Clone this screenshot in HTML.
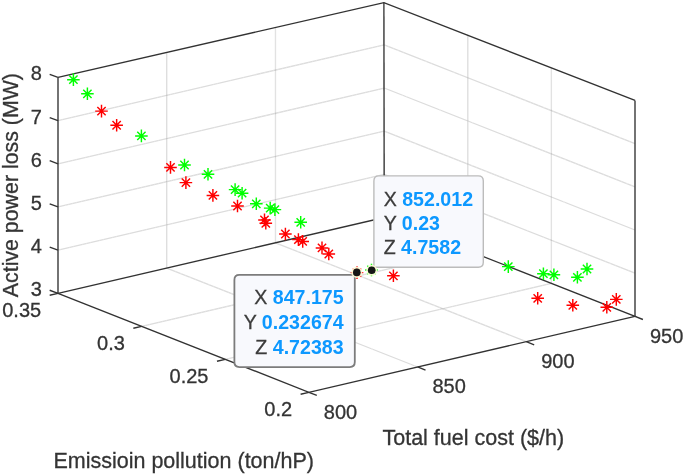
<!DOCTYPE html>
<html><head><meta charset="utf-8"><title>Pareto front</title>
<style>
html,body{margin:0;padding:0;background:#fff;}
body{width:685px;height:475px;overflow:hidden;font-family:"Liberation Sans",sans-serif;}
svg{display:block;}
text{font-family:"Liberation Sans",sans-serif;fill:#343434;stroke:#343434;stroke-width:.3;}
.g{stroke:#262626;stroke-opacity:.14;stroke-width:1.3;fill:none;}
.a{stroke:#323232;stroke-width:1.35;fill:none;stroke-linecap:butt;}
.t{font-size:20px;}
.l{font-size:21.5px;}
.d{font-size:19.6px;}
.d{fill:#3c3c3c;stroke:#3c3c3c;}
.b{font-weight:bold;fill:#0a98ff;stroke:none;}
.r{stroke:#ff0000;stroke-width:1.45;fill:none;}
.n{stroke:#00ff00;stroke-width:1.45;fill:none;}
</style></head><body>
<svg width="685" height="475" viewBox="0 0 685 475">
<rect x="0" y="0" width="685" height="475" fill="#ffffff"/>
<defs>
<filter id="soft" x="-2%" y="-2%" width="104%" height="104%"><feGaussianBlur stdDeviation="0.55"/></filter>
<g id="s"><path d="M-6.3 0H6.3M0 -6.3V6.3M-4.15 -4.15L4.15 4.15M-4.15 4.15L4.15 -4.15"/></g>
</defs>
<g filter="url(#soft)">
<g>
<line class="g" x1="166.73" y1="268.05" x2="166.73" y2="52.15"/>
<line class="g" x1="166.73" y1="268.05" x2="417.6" y2="366.98"/>
<line class="g" x1="467.8" y1="250.48" x2="467.8" y2="34.58"/>
<line class="g" x1="467.8" y1="250.48" x2="141.63" y2="326.3"/>
<line class="g" x1="275.47" y1="242.8" x2="275.47" y2="26.9"/>
<line class="g" x1="275.47" y1="242.8" x2="526.3" y2="341.67"/>
<line class="g" x1="551.4" y1="283.42" x2="551.4" y2="67.52"/>
<line class="g" x1="551.4" y1="283.42" x2="225.27" y2="359.3"/>
<line class="g" x1="58" y1="250.12" x2="384.2" y2="174.37"/>
<line class="g" x1="384.2" y1="174.37" x2="635" y2="273.17"/>
<line class="g" x1="58" y1="206.94" x2="384.2" y2="131.19"/>
<line class="g" x1="384.2" y1="131.19" x2="635" y2="229.99"/>
<line class="g" x1="58" y1="163.76" x2="384.2" y2="88.01"/>
<line class="g" x1="384.2" y1="88.01" x2="635" y2="186.81"/>
<line class="g" x1="58" y1="120.58" x2="384.2" y2="44.83"/>
<line class="g" x1="384.2" y1="44.83" x2="635" y2="143.63"/>
</g>
<g>
<polyline class="a" points="58,77.4 383.9,2.6 635,100.45"/>
<polygon class="a" points="58,293.3 308.9,392.3 635,316.35 384.2,217.55"/>
<line class="a" x1="58" y1="293.3" x2="58" y2="77.4"/>
<line class="a" x1="384.2" y1="217.55" x2="383.9" y2="2.6"/>
<line class="a" x1="635" y1="316.35" x2="635" y2="100.45"/>
<line class="a" x1="58" y1="293.3" x2="49.7" y2="290.25"/>
<line class="a" x1="58" y1="250.12" x2="49.7" y2="247.07"/>
<line class="a" x1="58" y1="206.94" x2="49.7" y2="203.89"/>
<line class="a" x1="58" y1="163.76" x2="49.7" y2="160.71"/>
<line class="a" x1="58" y1="120.58" x2="49.7" y2="117.53"/>
<line class="a" x1="58" y1="77.4" x2="49.7" y2="74.35"/>
<line class="a" x1="58" y1="293.3" x2="49.7" y2="295.25"/>
<line class="a" x1="308.9" y1="392.3" x2="316.8" y2="395.45"/>
<line class="a" x1="141.63" y1="326.3" x2="133.33" y2="328.25"/>
<line class="a" x1="417.6" y1="366.98" x2="425.5" y2="370.13"/>
<line class="a" x1="225.27" y1="359.3" x2="216.97" y2="361.25"/>
<line class="a" x1="526.3" y1="341.67" x2="534.2" y2="344.82"/>
<line class="a" x1="308.9" y1="392.3" x2="300.6" y2="394.25"/>
<line class="a" x1="635" y1="316.35" x2="642.9" y2="319.5"/>
</g>
<g class="t">
<text x="41.9" y="296.3" text-anchor="end">3</text>
<text x="41.9" y="253.12" text-anchor="end">4</text>
<text x="41.9" y="209.94" text-anchor="end">5</text>
<text x="41.9" y="166.76" text-anchor="end">6</text>
<text x="41.9" y="123.58" text-anchor="end">7</text>
<text x="41.9" y="80.4" text-anchor="end">8</text>
<text x="41.2" y="317.25" text-anchor="end">0.35</text>
<text x="124.83" y="350.25" text-anchor="end">0.3</text>
<text x="208.47" y="383.25" text-anchor="end">0.25</text>
<text x="292.1" y="416.25" text-anchor="end">0.2</text>
<text x="323.8" y="418.55">800</text>
<text x="432.5" y="393.23">850</text>
<text x="541.2" y="367.92">900</text>
<text x="649.9" y="342.6">950</text>
</g>
<g class="l">
<text x="473.3" y="445" text-anchor="middle">Total fuel cost ($/h)</text>
<text x="183.7" y="468" text-anchor="middle">Emissioin pollution (ton/hP)</text>
<text transform="translate(18.2 185.1) rotate(-90)" text-anchor="middle" style="font-size:21.35px">Active power loss (MW)</text>
</g>
<g class="n"><use href="#s" x="73.4" y="79.65"/><use href="#s" x="87.4" y="93.8"/><use href="#s" x="141.4" y="135.9"/><use href="#s" x="184.5" y="165"/><use href="#s" x="208" y="174.3"/><use href="#s" x="235.1" y="189.6"/><use href="#s" x="242.1" y="193.2"/><use href="#s" x="256.3" y="203.8"/><use href="#s" x="270.2" y="208.1"/><use href="#s" x="274.9" y="209.6"/><use href="#s" x="300.7" y="222.3"/><use href="#s" x="371.5" y="270"/><use href="#s" x="508.3" y="266.6"/><use href="#s" x="543.4" y="273.7"/><use href="#s" x="553.9" y="274.8"/><use href="#s" x="577.4" y="277.3"/><use href="#s" x="587" y="269"/></g>
<g class="r"><use href="#s" x="101.5" y="111.1"/><use href="#s" x="116.65" y="125.25"/><use href="#s" x="170.5" y="167.4"/><use href="#s" x="185.9" y="182.6"/><use href="#s" x="212.9" y="195.4"/><use href="#s" x="237.5" y="206"/><use href="#s" x="264.5" y="219.9"/><use href="#s" x="265.8" y="223.3"/><use href="#s" x="285.4" y="234"/><use href="#s" x="298.4" y="239.6"/><use href="#s" x="302.7" y="241.4"/><use href="#s" x="322" y="247.9"/><use href="#s" x="328.8" y="254"/><use href="#s" x="357" y="272.6"/><use href="#s" x="393.4" y="275.8"/><use href="#s" x="537.7" y="298.3"/><use href="#s" x="572.8" y="305.3"/><use href="#s" x="606.8" y="307.3"/><use href="#s" x="616.3" y="299.4"/></g>
<g>
<path d="M378.9 175.9H478.3Q483.3 175.9 483.3 180.9V262.3Q483.3 267.3 478.3 267.3H373.9V180.9Q373.9 175.9 378.9 175.9Z" fill="#f8f9fd" stroke="#bcbcbc" stroke-width="1.4"/>
<text class="d" x="383.7" y="205.6" xml:space="preserve">X <tspan class="b">852.012</tspan></text>
<text class="d" x="383.7" y="229.6" xml:space="preserve">Y <tspan class="b">0.23</tspan></text>
<text class="d" x="383.7" y="253.8" xml:space="preserve">Z <tspan class="b">4.7582</tspan></text>
<path d="M239.4 274.9H354.8V362.1Q354.8 367.1 349.8 367.1H239.4Q234.4 367.1 234.4 362.1V279.9Q234.4 274.9 239.4 274.9Z" fill="#f8f9fd" stroke="#7c7c7c" stroke-width="1.8"/>
<text class="d" x="343.6" y="304.4" text-anchor="end" xml:space="preserve">X <tspan class="b">847.175</tspan></text>
<text class="d" x="343.6" y="328.9" text-anchor="end" xml:space="preserve">Y <tspan class="b">0.232674</tspan></text>
<text class="d" x="343.6" y="353.5" text-anchor="end" xml:space="preserve">Z <tspan class="b">4.72383</tspan></text>
<circle cx="356.8" cy="272.4" r="4.6" fill="none" stroke="#fcfad4" stroke-width="1.9" stroke-opacity="0.92"/><circle cx="356.8" cy="272.4" r="3.8" fill="#161616"/>
<circle cx="371.7" cy="270.3" r="4.6" fill="none" stroke="#fcfad4" stroke-width="1.9" stroke-opacity="0.92"/><circle cx="371.7" cy="270.3" r="3.8" fill="#161616"/>
</g>
</g>
</svg></body></html>
